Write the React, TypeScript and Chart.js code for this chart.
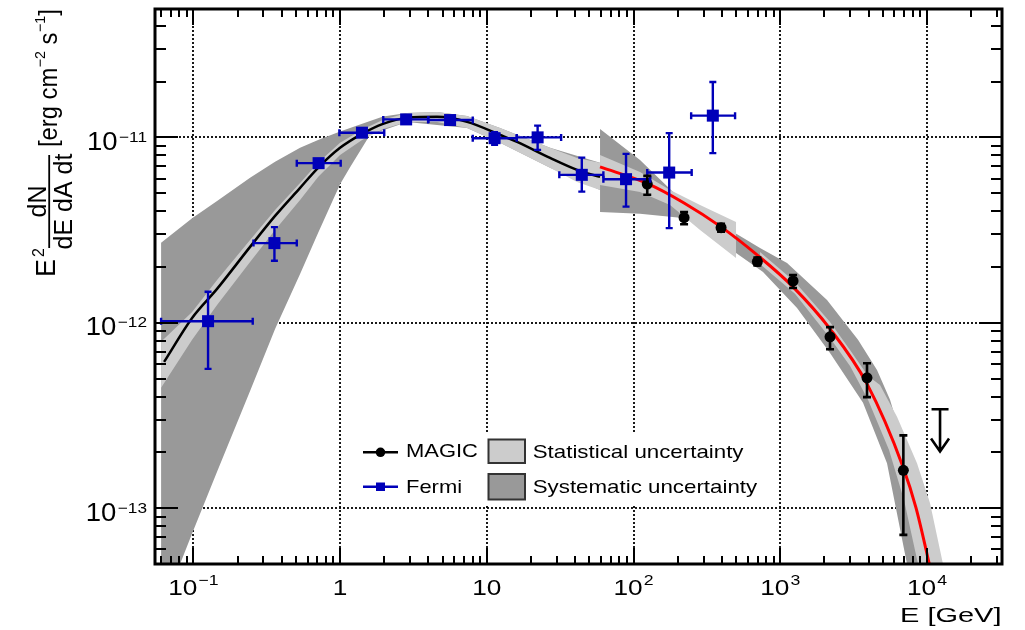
import { useEffect, useRef } from 'react';
import { Chart, registerables } from 'chart.js';

Chart.register(...registerables);

// ---------------- axis ranges & ticks ----------------
const X_MIN = 0.0548;
const X_MAX = 32440;
const Y_MIN = 5e-14;
const Y_MAX = 4.925e-11;

const xMajorTicks = [0.1, 1, 10, 100, 1000, 10000];
const xTickBase = ['10', '1', '10', '10', '10', '10'];
const xTickExp = ['\u22121', '', '', '2', '3', '4'];
const yMajorTicks = [1e-13, 1e-12, 1e-11];
const yTickBase = ['10', '10', '10'];
const yTickExp = ['\u221213', '\u221212', '\u221211'];
const minorMultipliers = [2, 3, 4, 5, 6, 7, 8, 9];
const xDecades = [0.01, 0.1, 1, 10, 100, 1000, 10000];
const yDecades = [1e-14, 1e-13, 1e-12, 1e-11];

// ---------------- Fermi points ----------------
const fermiE = [0.126, 0.357, 0.714, 1.41, 2.82, 5.62, 11.3, 22.2, 44.4, 88.9, 175, 347];
const fermiF = [1.02e-12, 2.69e-12, 7.26e-12, 1.06e-11, 1.25e-11, 1.24e-11, 9.9e-12, 1.0e-11, 6.28e-12, 5.95e-12, 6.46e-12, 1.31e-11];
const fermiElo = [0.0603, 0.257, 0.507, 0.989, 1.97, 3.98, 8.02, 16.0, 31.2, 62.3, 124, 247];
const fermiEhi = [0.254, 0.507, 1.01, 2.0, 4.0, 8.02, 16.0, 32.1, 62.3, 130, 249, 492];
const fermiFlo = [5.64e-13, 2.16e-12, 6.91e-12, 1.02e-11, 1.2e-11, 1.19e-11, 9.11e-12, 8.56e-12, 5.1e-12, 4.23e-12, 3.24e-12, 8.22e-12];
const fermiFhi = [1.47e-12, 3.28e-12, 7.63e-12, 1.1e-11, 1.3e-11, 1.29e-11, 1.067e-11, 1.157e-11, 7.78e-12, 8.15e-12, 1.054e-11, 1.99e-11];

// ---------------- MAGIC points ----------------
const magicE = [124, 221, 395, 698, 1222, 2183, 3900, 6900];
const magicF = [5.6e-12, 3.69e-12, 3.26e-12, 2.14e-12, 1.68e-12, 8.4e-13, 5.05e-13, 1.6e-13];
const magicFlo = [4.9e-12, 3.4e-12, 3.1e-12, 2.04e-12, 1.54e-12, 7.2e-13, 3.97e-13, 7.18e-14];
const magicFhi = [6.2e-12, 3.95e-12, 3.42e-12, 2.25e-12, 1.81e-12, 9.47e-13, 6.05e-13, 2.47e-13];

// upper limit
const ulE = [12270];
const ulF = [3.42e-13];
const ulArrowTip = [2.02e-13];

// ---------------- fitted curves ----------------
const fermiFitE = [0.0632, 0.0981, 0.1451, 0.2436, 0.3606, 0.5339, 0.7081, 1.0, 1.412, 1.963, 2.861, 4.581, 7.335, 12.31, 16.08, 26.98, 41.21, 59.12];
const fermiFitF = [6.15e-13, 1.062e-12, 1.523e-12, 2.567e-12, 3.77e-12, 5.34e-12, 6.85e-12, 8.78e-12, 1.044e-11, 1.182e-11, 1.274e-11, 1.29e-11, 1.212e-11, 1.032e-11, 9.46e-12, 7.75e-12, 6.68e-12, 6.12e-12];
const magicFitE = [59.12, 123.6, 220.9, 394.8, 694.4, 1221, 2183, 3901, 6862, 8416, 10320, 11515];
const magicFitF = [6.93e-12, 5.65e-12, 4.43e-12, 3.29e-12, 2.324e-12, 1.562e-12, 9.27e-13, 4.68e-13, 1.67e-13, 1.004e-13, 5.07e-14, 3.41e-14];

// ---------------- uncertainty bands (outline vertices [E, F]) ----------------
const fermiSysBand = [
  [0.0603, 2.7e-12], [0.0981, 3.66e-12], [0.1451, 4.54e-12], [0.2436, 6.05e-12], [0.3606, 7.38e-12],
  [0.5339, 8.78e-12], [0.7081, 9.69e-12], [1.0, 1.075e-11], [1.601, 1.227e-11], [1.963, 1.295e-11],
  [2.861, 1.355e-11], [4.581, 1.372e-11], [7.335, 1.306e-11], [12.31, 1.125e-11], [26.98, 8.78e-12],
  [59.12, 7.29e-12],
  [59.12, 5.21e-12], [26.98, 6.85e-12], [12.31, 9.34e-12], [7.335, 1.125e-11], [2.861, 1.212e-11],
  [1.601, 1.032e-11], [1.17, 6.91e-12], [1.0, 5.58e-12], [0.7081, 3.05e-12], [0.5339, 1.835e-12],
  [0.3606, 9.27e-13], [0.2436, 4.29e-13], [0.1451, 1.57e-13], [0.0981, 7.31e-14], [0.0812, 5.0e-14],
  [0.0603, 5.0e-14],
];
const fermiStatBand = [
  [0.0603, 7.89e-13], [0.0981, 1.145e-12], [0.1451, 1.703e-12], [0.2436, 2.8e-12], [0.3606, 4.06e-12],
  [0.5339, 5.68e-12], [0.7081, 7.29e-12], [1.0, 9.34e-12], [1.412, 1.098e-11], [1.963, 1.243e-11],
  [2.861, 1.355e-11], [4.581, 1.372e-11], [7.335, 1.306e-11], [12.31, 1.125e-11], [26.98, 8.78e-12],
  [41.21, 7.75e-12], [59.12, 7.29e-12],
  [59.12, 5.21e-12], [41.21, 5.75e-12], [26.98, 6.85e-12], [12.31, 9.34e-12], [7.335, 1.125e-11],
  [4.581, 1.212e-11], [2.861, 1.212e-11], [1.963, 1.111e-11], [1.412, 9.69e-12], [1.0, 8.04e-12],
  [0.7081, 6.12e-12], [0.5339, 4.6e-12], [0.3606, 3.17e-12], [0.2436, 2.13e-12], [0.1451, 1.249e-12],
  [0.0981, 8.09e-13], [0.0603, 4.46e-13],
];
const magicSysBand = [
  [59.12, 1.111e-11], [110.7, 7.56e-12], [185.9, 5.08e-12], [284.0, 4.06e-12], [454.5, 3.17e-12],
  [727.8, 2.535e-12], [1112, 2.104e-12], [2083, 1.328e-12], [3387, 8.09e-13], [4563, 5.57e-13],
  [5597, 3.84e-13], [7083, 2.06e-13], [8684, 1.108e-13], [10158, 5.0e-14],
  [7306, 5.0e-14], [5339, 1.75e-13], [3664, 3.7e-13], [2183, 6.88e-13], [1301, 1.203e-12],
  [763, 1.881e-12], [454.5, 2.504e-12], [284.0, 3.5e-12], [207.5, 3.68e-12], [110.7, 3.87e-12],
  [59.12, 3.96e-12],
];
const magicStatBandLow = [
  [59.12, 8.04e-12], [110.7, 6.51e-12], [177.3, 5.21e-12], [284.0, 4.32e-12], [499.4, 3.5e-12],
  [499.4, 2.239e-12], [284.0, 3.17e-12], [177.3, 4.32e-12], [110.7, 5.08e-12], [59.12, 5.54e-12],
];
const magicStatBandHigh = [
  [727.8, 2.412e-12], [1260, 1.662e-12], [2183, 1.011e-12], [2988, 7.14e-13], [3963, 5.17e-13],
  [4783, 4.62e-13], [6246, 3.11e-13], [8549, 1.75e-13], [10480, 1.068e-13], [12853, 5.0e-14],
  [8684, 5.0e-14], [6971, 1.108e-13], [5510, 2.06e-13], [3963, 3.84e-13], [2988, 5.85e-13],
  [2183, 8.29e-13], [1260, 1.432e-12], [727.8, 2.078e-12],
];

// ---------------- styles ----------------
const BLUE = 'rgb(0,0,185)';
const DARK = 'rgb(153,153,153)';
const LIGHT = 'rgb(204,204,204)';
const RED = 'rgb(255,0,0)';
const FONT = '"Liberation Sans", Arial, Helvetica, sans-serif';

const pts = (E: number[], F: number[]) => E.map((e, i) => ({ x: e, y: F[i] }));
const poly = (v: number[][]) => v.map(([x, y]) => ({ x, y }));

function txt(ctx: CanvasRenderingContext2D, s: string, x: number, y: number, size: number, sx: number, align: string) {
  ctx.save();
  ctx.font = `${size}px ${FONT}`;
  const w = ctx.measureText(s).width * sx;
  const x0 = align === 'right' ? x - w : align === 'center' ? x - w / 2 : x;
  ctx.translate(x0, y);
  ctx.scale(sx, 1);
  ctx.textAlign = 'left';
  ctx.textBaseline = 'alphabetic';
  ctx.fillStyle = '#000';
  ctx.fillText(s, 0, 0);
  ctx.restore();
  return w;
}
function width(ctx: CanvasRenderingContext2D, s: string, size: number, sx: number) {
  ctx.save();
  ctx.font = `${size}px ${FONT}`;
  const w = ctx.measureText(s).width * sx;
  ctx.restore();
  return w;
}

const gridPlugin = {
  id: 'gridPlugin',
  beforeDatasetsDraw(chart: any) {
    const { ctx, chartArea } = chart;
    const xs = chart.scales.x, ys = chart.scales.y;
    const { left, right, top, bottom } = chartArea;
    ctx.save();
    ctx.strokeStyle = '#000';
    ctx.lineWidth = 1.8;
    ctx.setLineDash([2, 2]);
    xMajorTicks.forEach((v) => {
      const x = Math.round(xs.getPixelForValue(v));
      ctx.beginPath(); ctx.moveTo(x, bottom); ctx.lineTo(x, top); ctx.stroke();
    });
    yMajorTicks.forEach((v) => {
      const y = Math.round(ys.getPixelForValue(v));
      ctx.beginPath(); ctx.moveTo(left, y); ctx.lineTo(right, y); ctx.stroke();
    });
    ctx.setLineDash([]);
    // legend background
    ctx.fillStyle = '#fff';
    ctx.fillRect(350, 432, 422, 72);
    ctx.restore();
  },
};

const errorPlugin = {
  id: 'errorPlugin',
  afterDatasetsDraw(chart: any) {
    const { ctx } = chart;
    const xs = chart.scales.x, ys = chart.scales.y;
    ctx.save();
    ctx.setLineDash([]);
    ctx.lineCap = 'butt';
    ctx.strokeStyle = BLUE;
    ctx.lineWidth = 2.4;
    fermiE.forEach((e, i) => {
      const x = xs.getPixelForValue(e), y = ys.getPixelForValue(fermiF[i]);
      const x1 = xs.getPixelForValue(fermiElo[i]), x2 = xs.getPixelForValue(fermiEhi[i]);
      const y1 = ys.getPixelForValue(fermiFhi[i]), y2 = ys.getPixelForValue(fermiFlo[i]);
      ctx.beginPath();
      ctx.moveTo(x1, y); ctx.lineTo(x2, y);
      ctx.moveTo(x1, y - 3.5); ctx.lineTo(x1, y + 3.5);
      ctx.moveTo(x2, y - 3.5); ctx.lineTo(x2, y + 3.5);
      ctx.moveTo(x, y1); ctx.lineTo(x, y2);
      ctx.moveTo(x - 3.5, y1); ctx.lineTo(x + 3.5, y1);
      ctx.moveTo(x - 3.5, y2); ctx.lineTo(x + 3.5, y2);
      ctx.stroke();
    });
    ctx.strokeStyle = '#000';
    ctx.lineWidth = 2.6;
    magicE.forEach((e, i) => {
      const x = xs.getPixelForValue(e);
      const y1 = ys.getPixelForValue(magicFhi[i]), y2 = ys.getPixelForValue(magicFlo[i]);
      ctx.beginPath();
      ctx.moveTo(x, y1); ctx.lineTo(x, y2);
      ctx.moveTo(x - 4, y1); ctx.lineTo(x + 4, y1);
      ctx.moveTo(x - 4, y2); ctx.lineTo(x + 4, y2);
      ctx.stroke();
    });
    // upper limit arrow
    ulE.forEach((e, i) => {
      const x = xs.getPixelForValue(e);
      const y1 = ys.getPixelForValue(ulF[i]), y2 = ys.getPixelForValue(ulArrowTip[i]);
      ctx.beginPath();
      ctx.moveTo(x - 8.5, y1); ctx.lineTo(x + 8.5, y1);
      ctx.moveTo(x, y1); ctx.lineTo(x, y2);
      ctx.moveTo(x - 9, y2 - 13); ctx.lineTo(x, y2); ctx.lineTo(x + 9, y2 - 13);
      ctx.stroke();
    });
    ctx.restore();
  },
};

const framePlugin = {
  id: 'framePlugin',
  afterDraw(chart: any) {
    const { ctx, chartArea } = chart;
    const xs = chart.scales.x, ys = chart.scales.y;
    const { left, right, top, bottom } = chartArea;
    ctx.save();
    ctx.setLineDash([]);
    ctx.strokeStyle = '#000';
    // ticks
    ctx.lineWidth = 2;
    const inX = (v: number) => v >= X_MIN && v <= X_MAX;
    const inY = (v: number) => v >= Y_MIN && v <= Y_MAX;
    ctx.beginPath();
    xDecades.forEach((d) => {
      minorMultipliers.forEach((m) => {
        const v = d * m;
        if (!inX(v)) return;
        const x = Math.round(xs.getPixelForValue(v));
        ctx.moveTo(x, bottom); ctx.lineTo(x, bottom - 8);
        ctx.moveTo(x, top); ctx.lineTo(x, top + 8);
      });
    });
    xMajorTicks.forEach((v) => {
      const x = Math.round(xs.getPixelForValue(v));
      ctx.moveTo(x, bottom); ctx.lineTo(x, bottom - 16);
      ctx.moveTo(x, top); ctx.lineTo(x, top + 16);
    });
    yDecades.forEach((d) => {
      minorMultipliers.forEach((m) => {
        const v = d * m;
        if (!inY(v)) return;
        const y = Math.round(ys.getPixelForValue(v));
        ctx.moveTo(left, y); ctx.lineTo(left + 11, y);
        ctx.moveTo(right, y); ctx.lineTo(right - 11, y);
      });
    });
    yMajorTicks.forEach((v) => {
      const y = Math.round(ys.getPixelForValue(v));
      ctx.moveTo(left, y); ctx.lineTo(left + 23, y);
      ctx.moveTo(right, y); ctx.lineTo(right - 23, y);
    });
    ctx.stroke();
    // frame
    ctx.lineWidth = 3;
    ctx.strokeRect(left, top, right - left, bottom - top);

    // x tick labels
    xMajorTicks.forEach((v, i) => {
      const x = xs.getPixelForValue(v);
      const b = xTickBase[i], ex = xTickExp[i];
      const wb = width(ctx, b, 21.5, 1.22);
      const we = ex ? width(ctx, ex, 14.5, 1.22) + 1 : 0;
      const x0 = x - (wb + we) / 2;
      txt(ctx, b, x0, 595, 21.5, 1.22, 'left');
      if (ex) txt(ctx, ex, x0 + wb + 1, 585, 14.5, 1.22, 'left');
    });
    // y tick labels
    yMajorTicks.forEach((v, i) => {
      const y = ys.getPixelForValue(v);
      const b = yTickBase[i], ex = yTickExp[i];
      const we = width(ctx, ex, 15, 1.15);
      const wb = width(ctx, b, 25, 1.1);
      const xr = 147;
      txt(ctx, ex, xr - we, y + 4.5, 15, 1.15, 'left');
      txt(ctx, b, xr - we - 1.5 - wb, y + 12.5, 25, 1.1, 'left');
    });
    // x title
    txt(ctx, 'E [GeV]', 1001.5, 621.5, 21, 1.38, 'right');

    // y title (rotated)
    ctx.save();
    ctx.translate(0, 282);
    ctx.rotate(-Math.PI / 2);
    // local (u, v) -> image (v, 282 - u)
    txt(ctx, 'E', 5, 55, 27, 1.0, 'left');
    txt(ctx, '2', 25, 44, 16, 1.0, 'left');
    ctx.fillStyle = '#000';
    ctx.fillRect(34, 48.3, 93, 1.8);
    txt(ctx, 'dN', 80.5, 45.5, 25, 1.0, 'center');
    txt(ctx, 'dE dA dt', 80.5, 71.5, 25, 1.0, 'center');
    let u = 135;
    u += txt(ctx, '[erg cm', u, 57, 25, 0.95, 'left');
    u += txt(ctx, '\u22122', u + 0.5, 45, 15, 0.95, 'left') + 0.5;
    u += txt(ctx, ' s', u, 57, 25, 0.95, 'left');
    u += txt(ctx, '\u22121', u + 0.5, 45, 15, 0.95, 'left') + 0.5;
    txt(ctx, ']', u, 57, 25, 0.95, 'left');
    ctx.restore();

    // legend
    ctx.lineWidth = 2.5;
    ctx.strokeStyle = '#000';
    ctx.beginPath(); ctx.moveTo(363, 452.3); ctx.lineTo(398, 452.3); ctx.stroke();
    ctx.fillStyle = '#000';
    ctx.beginPath(); ctx.arc(380.5, 452.3, 4.8, 0, Math.PI * 2); ctx.fill();
    ctx.strokeStyle = BLUE;
    ctx.beginPath(); ctx.moveTo(363, 486.7); ctx.lineTo(398, 486.7); ctx.stroke();
    ctx.fillStyle = BLUE;
    ctx.fillRect(376, 482.5, 9, 8.5);
    ctx.lineWidth = 2;
    ctx.strokeStyle = '#333';
    ctx.fillStyle = LIGHT;
    ctx.fillRect(488.5, 439.5, 36.5, 23.5);
    ctx.strokeRect(488.5, 439.5, 36.5, 23.5);
    ctx.fillStyle = DARK;
    ctx.fillRect(488.5, 474, 36.5, 25.5);
    ctx.strokeRect(488.5, 474, 36.5, 25.5);
    txt(ctx, 'MAGIC', 406, 457.3, 18.6, 1.18, 'left');
    txt(ctx, 'Fermi', 406, 493.3, 18.6, 1.18, 'left');
    txt(ctx, 'Statistical uncertainty', 532.7, 458.3, 18.6, 1.2, 'left');
    txt(ctx, 'Systematic uncertainty', 532.7, 493.3, 18.6, 1.2, 'left');
    ctx.restore();
  },
};

const bandDs = (data: number[][], color: string, order: number) => ({
  data: poly(data),
  fill: 'shape',
  backgroundColor: color,
  borderColor: 'rgba(0,0,0,0)',
  borderWidth: 0,
  pointRadius: 0,
  tension: 0,
  order,
});

export default function App() {
  const ref = useRef<HTMLCanvasElement | null>(null);
  useEffect(() => {
    if (!ref.current) return;
    const chart = new Chart(ref.current, {
      type: 'line',
      data: {
        datasets: [
          bandDs(fermiSysBand, DARK, 20),
          bandDs(fermiStatBand, LIGHT, 19),
          bandDs(magicSysBand, DARK, 18),
          bandDs(magicStatBandLow, LIGHT, 17),
          bandDs(magicStatBandHigh, LIGHT, 16),
          {
            data: pts(fermiFitE, fermiFitF),
            borderColor: '#000',
            borderWidth: 2.5,
            pointRadius: 0,
            fill: false,
            cubicInterpolationMode: 'monotone',
            order: 10,
          },
          {
            data: pts(magicFitE, magicFitF),
            borderColor: RED,
            borderWidth: 3,
            pointRadius: 0,
            fill: false,
            cubicInterpolationMode: 'monotone',
            order: 9,
          },
          {
            data: pts(magicE, magicF),
            showLine: false,
            pointStyle: 'circle',
            pointRadius: 5.5,
            pointBackgroundColor: '#000',
            pointBorderWidth: 0,
            order: 2,
          },
          {
            data: pts(fermiE, fermiF),
            showLine: false,
            pointStyle: 'rect',
            pointRadius: 8.5,
            pointBackgroundColor: BLUE,
            pointBorderWidth: 0,
            order: 1,
          },
        ] as any,
      },
      options: {
        animation: false,
        responsive: false,
        devicePixelRatio: 1,
        events: [],
        layout: { padding: { left: 155, right: 23, top: 9, bottom: 66 } },
        plugins: { legend: { display: false }, tooltip: { enabled: false }, title: { display: false } },
        scales: {
          x: { type: 'logarithmic', min: X_MIN, max: X_MAX, display: false, bounds: 'data' },
          y: { type: 'logarithmic', min: Y_MIN, max: Y_MAX, display: false, bounds: 'data' },
        },
      } as any,
      plugins: [gridPlugin, errorPlugin, framePlugin],
    });
    return () => chart.destroy();
  }, []);
  return (
    <div style={{ position: 'absolute', left: 0, top: 0, width: 1025, height: 630, background: '#fff' }}>
      <canvas ref={ref} width={1025} height={630} style={{ display: 'block' }} />
    </div>
  );
}
